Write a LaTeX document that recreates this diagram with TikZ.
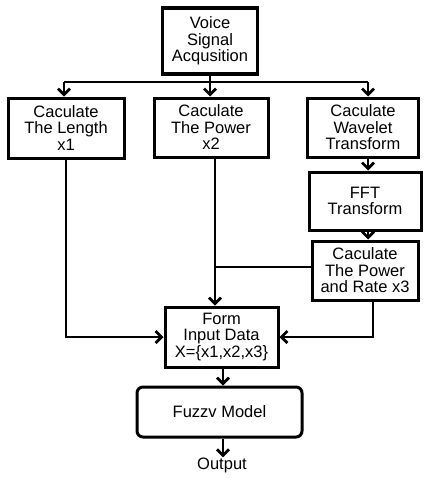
\documentclass[tikz,border=0pt]{standalone}
\usepackage{fontspec}
\setmainfont{Liberation Sans}
\usetikzlibrary{arrows.meta}
\begin{document}
\begin{tikzpicture}[x=1pt,y=-1pt,
  box/.style={draw,line width=3pt,align=center,inner sep=0pt,
    font=\fontsize{16.5}{16.5}\selectfont},
  arr/.style={line width=2.8pt,-{Straight Barb[length=6pt,width=12pt,line width=2.8pt]}},
  ln/.style={line width=2.8pt}]
\useasboundingbox (0,0) rectangle (425,479);
\node[box,line width=3.8pt,minimum width=95pt,minimum height=66pt] (v) at (210,41) {Voice\\Signal\\Acqusition};
\node[box,minimum width=116pt,minimum height=60pt] (b1) at (66,128) {Caculate\\The Length\\x1};
\node[box,minimum width=114pt,minimum height=59pt] (b2) at (211,127.5) {Caculate\\The Power\\x2};
\node[box,minimum width=111pt,minimum height=59pt] (b3) at (363,127.5) {Caculate\\Wavelet\\Transform};
\node[box,minimum width=112pt,minimum height=58pt] (fft) at (365,201) {FFT\\Transform};
\node[box,minimum width=106pt,minimum height=59pt] (pr) at (365,270.5) {Caculate\\The Power\\and Rate x3};
\node[box,minimum width=113pt,minimum height=60pt] (form) at (221.5,337) {Form\\Input Data\\X=\{x1,x2,x3\}};
\node[box,rounded corners=6pt,minimum width=165pt,minimum height=50pt] (fz) at (219.5,412) {Fuzzv Model};
\node[font=\fontsize{16.5}{16.5}\selectfont,inner sep=0pt] (out) at (222,465) {Output};
\coordinate (j) at (210,82);
\coordinate (jl) at (64,82);
\coordinate (jr) at (368,82);
\draw[ln] (v.south) -- (j);
\draw[ln] (jl) -- (jr);
\draw[arr] (jl) -- (jl |- b1.north);
\draw[arr] (j) -- (j |- b2.north);
\draw[arr] (jr) -- (jr |- b3.north);
\draw[arr] (jr |- b3.south) -- (jr |- fft.north);
\draw[arr] (jr |- fft.south) -- (jr |- pr.north);
\coordinate (c2) at (215,0);
\draw[arr] (c2 |- b2.south) -- (c2 |- form.north);
\coordinate (m) at (215,267);
\draw[ln] (m) -- (m -| pr.west);
\draw[arr] (b1.south) |- (form.west);
\coordinate (c3) at (373,0);
\draw[arr] (c3 |- pr.south) |- (form.east);
\coordinate (c4) at (223,0);
\draw[arr] (c4 |- form.south) -- (c4 |- fz.north);
\draw[arr] (c4 |- fz.south) -- (c4 |- out.north);
\end{tikzpicture}
\end{document}
